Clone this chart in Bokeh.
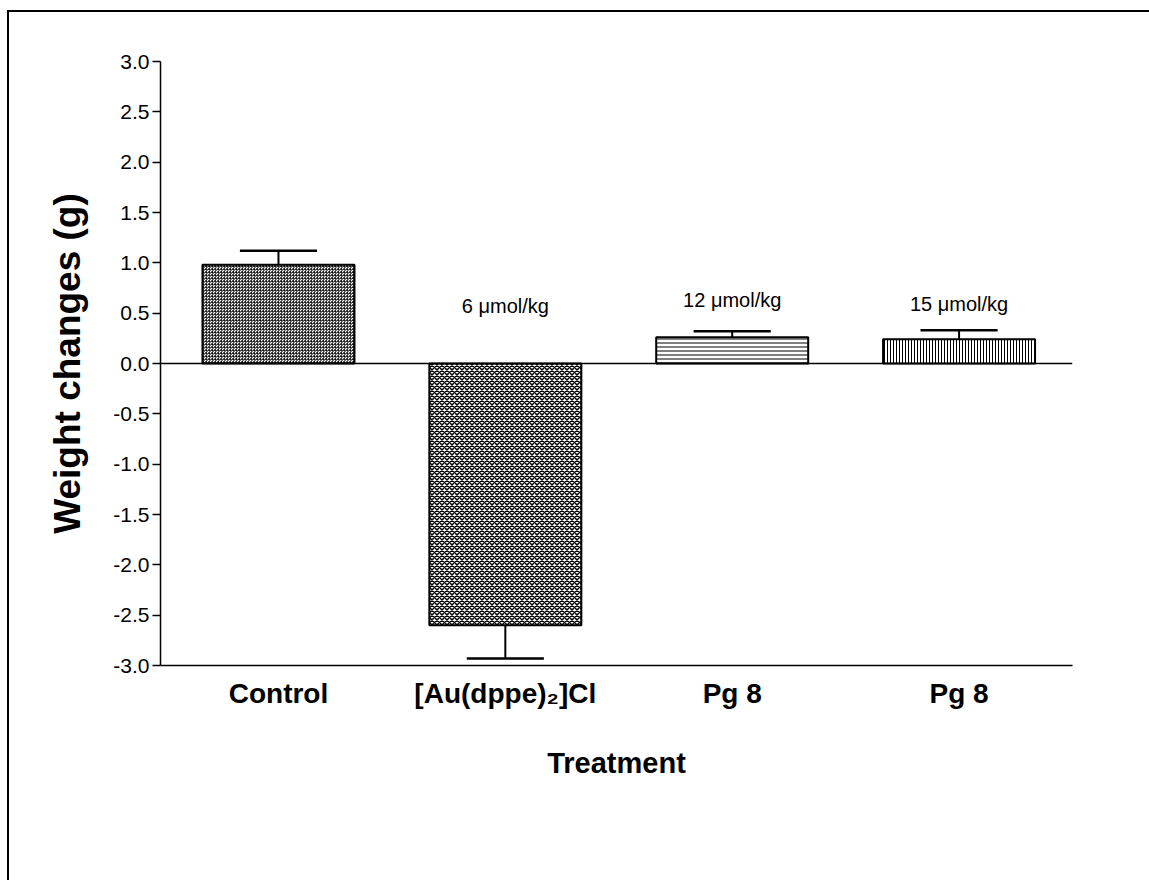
from bokeh.plotting import figure
from bokeh.models import Range1d, FixedTicker, NumeralTickFormatter, Span, ColumnDataSource
from bokeh.core.properties import value
from bokeh.embed import file_html
from bokeh.resources import INLINE

# ---- data ----
categories = ["Control", "[Au(dppe)\u2082]Cl", "Pg 8", "Pg 8"]
means = [0.98, -2.60, 0.26, 0.24]
errors = [0.14, 0.33, 0.06, 0.09]
notes = ["", "6 \u03bcmol/kg", "12 \u03bcmol/kg", "15 \u03bcmol/kg"]
note_y = [0.0, 0.57, 0.63, 0.59]
y_ticks = [-3.0, -2.5, -2.0, -1.5, -1.0, -0.5, 0.0, 0.5, 1.0, 1.5, 2.0, 2.5, 3.0]

xs = list(range(len(categories)))
hatches = ["criss_cross", "diagonal_cross", "horizontal_line", "vertical_line"]
hscales = [3, 5, 4, 3]
hweights = [0.6, 1.5, 1, 1]
fills = ["#ffffff", "#ffffff", "#ffffff", "#ffffff"]

FONT = "Liberation Sans"
OX, OY = 9, 12  # canvas offset created by the outer border
EX = 12         # extend past the window so only left/top border show

p = figure(width=1149 - OX + EX, height=880 - OY + EX, output_backend="svg", toolbar_location=None,
           x_range=Range1d(-0.52, 3.5), y_range=Range1d(-3.0, 3.0))
p.styles = {"border-left": "2px solid black", "border-top": "2px solid black",
            "margin-left": "7px", "margin-top": "10px"}
p.min_border_left = 160 - OX
p.min_border_right = 77 + EX
p.min_border_top = 61 - OY
p.min_border_bottom = 215 + EX
p.outline_line_color = None
p.xgrid.visible = False
p.ygrid.visible = False
p.background_fill_color = "white"
p.border_fill_color = "white"

bar_w = 0.67
src = ColumnDataSource(dict(x=xs, top=means, hatch=hatches, hs=hscales, hw=hweights, fill=fills))
p.vbar(x="x", top="top", bottom=0, width=bar_w, source=src, fill_color="fill",
       line_color="black", line_width=2, hatch_pattern="hatch", hatch_scale="hs",
       hatch_color="black", hatch_weight="hw")

# error bars (one-sided, away from zero)
ends = [m + e if m >= 0 else m - e for m, e in zip(means, errors)]
cap = 0.34
p.segment(x0=xs, y0=means, x1=xs, y1=ends, line_color="black", line_width=2)
p.segment(x0=[x - cap / 2 for x in xs], y0=ends, x1=[x + cap / 2 for x in xs], y1=ends,
          line_color="black", line_width=2.5)

p.add_layout(Span(location=0, dimension="width", line_color="black", line_width=1.5))

p.text(x=xs, y=note_y, text=notes, text_align="center", text_baseline="middle",
       text_font=value(FONT), text_font_size="20px", text_color="black")

# axes
ya = p.yaxis[0]
ya.ticker = FixedTicker(ticks=y_ticks)
ya.formatter = NumeralTickFormatter(format="0.0")
ya.major_tick_out = 8
ya.major_tick_in = 0
ya.minor_tick_line_color = None
ya.axis_line_width = 1.5
ya.major_tick_line_width = 1.5
ya.major_label_text_font = FONT
ya.major_label_text_font_size = "21px"
ya.major_label_text_color = "black"
ya.major_label_standoff = 3
ya.axis_label = "Weight changes (g)"
ya.axis_label_text_font = FONT
ya.axis_label_text_font_style = "bold"
ya.axis_label_text_font_size = "37px"
ya.axis_label_text_color = "black"
ya.axis_label_standoff = 22

xa = p.xaxis[0]
xa.ticker = FixedTicker(ticks=xs)
xa.major_label_overrides = {i: c for i, c in enumerate(categories)}
xa.major_tick_out = 0
xa.major_tick_in = 0
xa.minor_tick_line_color = None
xa.axis_line_width = 1.5
xa.major_label_text_font = FONT
xa.major_label_text_font_style = "bold"
xa.major_label_text_font_size = "28px"
xa.major_label_text_color = "black"
xa.major_label_standoff = 12
xa.axis_label = "Treatment"
xa.axis_label_text_font = FONT
xa.axis_label_text_font_style = "bold"
xa.axis_label_text_font_size = "29px"
xa.axis_label_text_color = "black"
xa.axis_label_standoff = 35

html = file_html(p, INLINE)
html = html.replace("<body>", '<body style="margin:0; overflow:hidden;">', 1)
open("out.html", "w").write(html)
